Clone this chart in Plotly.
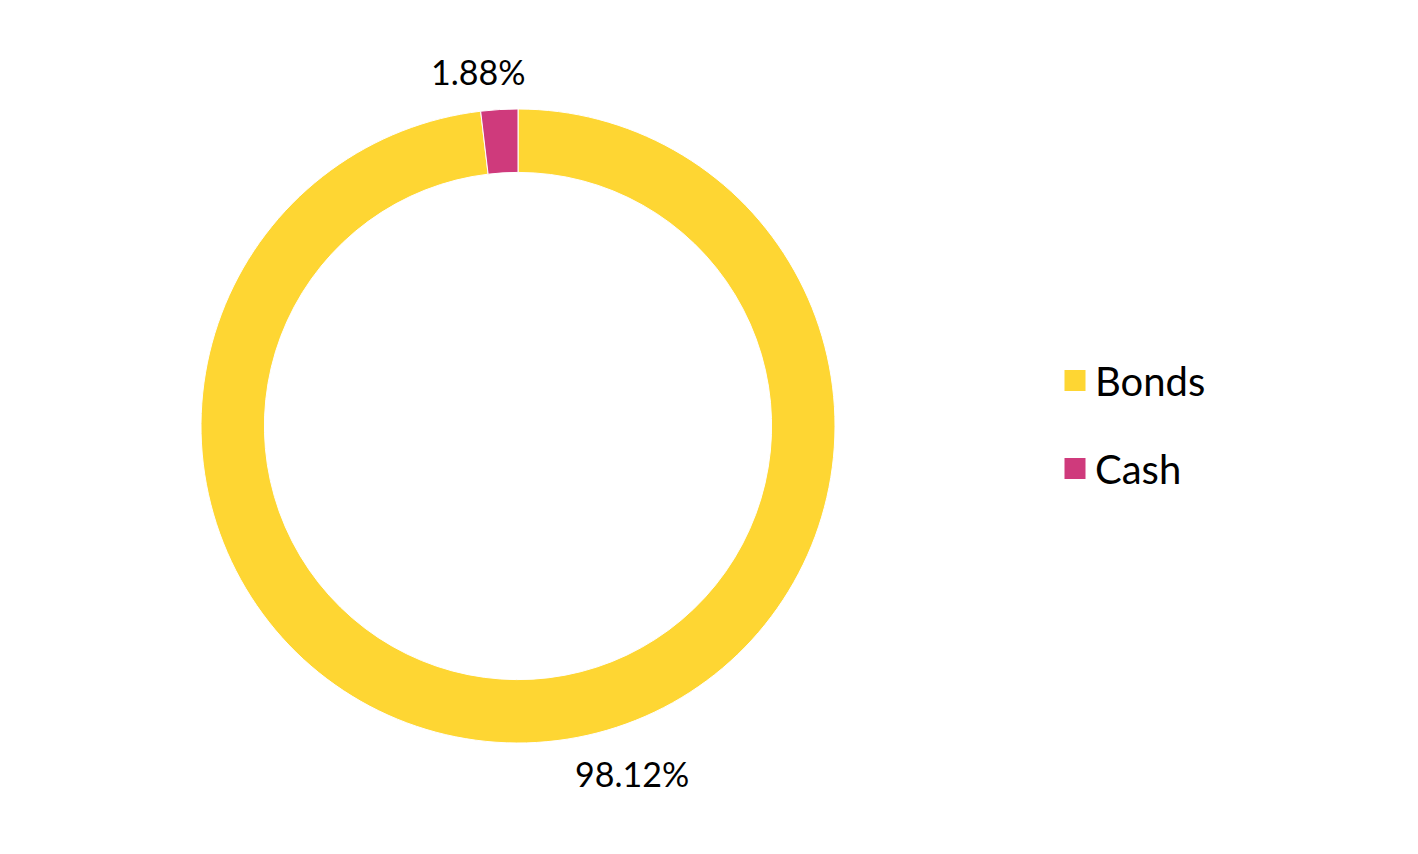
import plotly.graph_objects as go

labels = ["Bonds", "Cash"]
values = [98.12, 1.88]
colors = ["#FED633", "#CF3A7C"]

W, H = 1418, 854
OFF = 8  # page body margin
cx, cy, r = 518 - OFF, 426 - OFF, 317
FONT = "Lato, Noto Sans, sans-serif"

fig = go.Figure(go.Pie(
    labels=labels,
    values=values,
    hole=0.80,
    sort=False,
    direction="clockwise",
    rotation=0,
    textinfo="none",
    hoverinfo="label+percent",
    showlegend=False,
    marker=dict(colors=colors, line=dict(color="white", width=1)),
    domain=dict(x=[(cx - r) / W, (cx + r) / W], y=[1 - (cy + r) / H, 1 - (cy - r) / H]),
))

# legend entries (square swatches), one group per category for spacing
for i, (lab, col) in enumerate(zip(labels, colors)):
    fig.add_trace(go.Scatter(
        x=[None], y=[None], mode="markers", name=lab,
        marker=dict(symbol="square", size=16, color=col, line=dict(color=col, width=5)),
        legendgroup=f"g{i}", showlegend=True, hoverinfo="skip",
    ))

label_pos = {"Cash": (478 - OFF, 72 - OFF), "Bonds": (632 - OFF, 773 - OFF)}
for lab, val in zip(labels, values):
    px, py = label_pos[lab]
    fig.add_annotation(
        x=px / W, y=1 - py / H, xref="paper", yref="paper",
        text=f"{val:.2f}%", showarrow=False,
        font=dict(size=34, color="black", family=FONT),
        xanchor="center", yanchor="middle",
    )

fig.update_layout(
    width=W, height=H,
    margin=dict(l=0, r=0, t=0, b=0),
    paper_bgcolor="white",
    plot_bgcolor="white",
    font=dict(family=FONT, color="black"),
    xaxis=dict(visible=False),
    yaxis=dict(visible=False),
    legend=dict(
        x=(1075 - OFF - 20) / W, y=1 - (424.5 - OFF) / H, xanchor="left", yanchor="middle",
        font=dict(size=40, color="black", family=FONT),
        tracegroupgap=33,
        traceorder="grouped",
        itemsizing="trace",
        itemclick=False, itemdoubleclick=False,
    ),
    showlegend=True,
)

fig.write_html("out.html")
